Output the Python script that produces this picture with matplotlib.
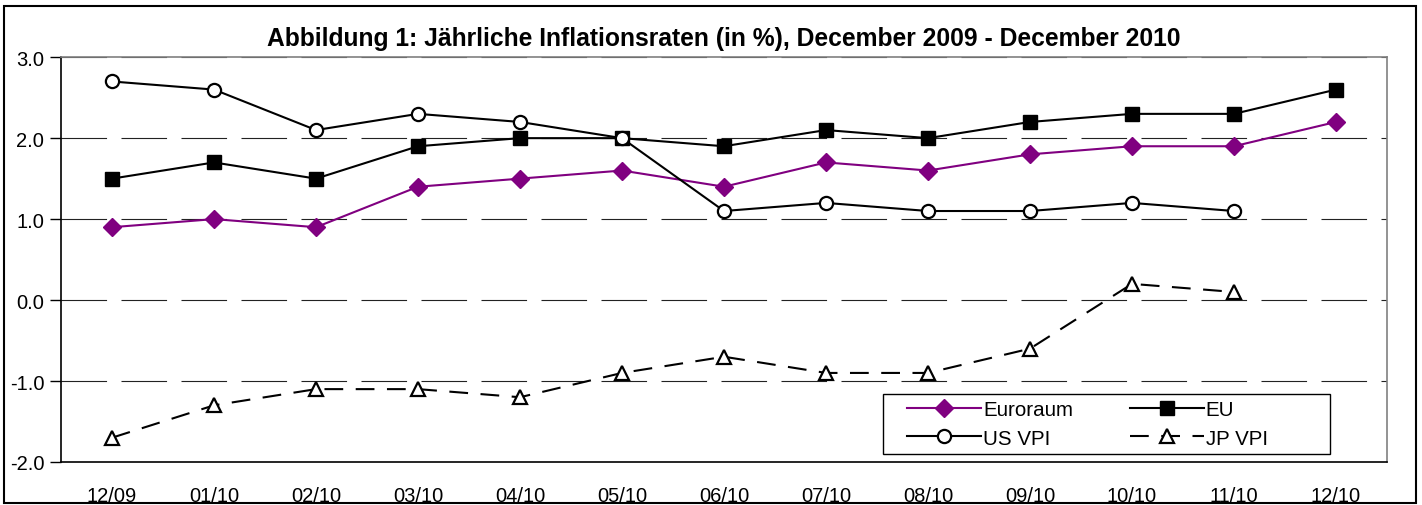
import numpy as np
import matplotlib.pyplot as plt
from matplotlib.patches import Rectangle

months = ["12/09", "01/10", "02/10", "03/10", "04/10", "05/10", "06/10",
          "07/10", "08/10", "09/10", "10/10", "11/10", "12/10"]
euroraum = [0.9, 1.0, 0.9, 1.4, 1.5, 1.6, 1.4, 1.7, 1.6, 1.8, 1.9, 1.9, 2.2]
eu = [1.5, 1.7, 1.5, 1.9, 2.0, 2.0, 1.9, 2.1, 2.0, 2.2, 2.3, 2.3, 2.6]
us_vpi = [2.7, 2.6, 2.1, 2.3, 2.2, 2.0, 1.1, 1.2, 1.1, 1.1, 1.2, 1.1, np.nan]
jp_vpi = [-1.7, -1.3, -1.1, -1.1, -1.2, -0.9, -0.7, -0.9, -0.9, -0.6, 0.2, 0.1, np.nan]
yticks = [-2.0, -1.0, 0.0, 1.0, 2.0, 3.0]

plt.rcParams['font.family'] = ['Liberation Sans', 'DejaVu Sans']

fig = plt.figure(figsize=(14.22, 5.06), dpi=100)
ax = fig.add_axes([0.0429, 0.085, 0.9325, 0.80])
x = np.arange(len(months))

# gridlines
for yv in yticks[1:]:
    ax.axhline(yv, color='#222222', lw=0.8, dashes=(41, 13), zorder=1)

l1, = ax.plot(x, euroraum, color='#800080', lw=1.5, marker='D', ms=9,
              markerfacecolor='#800080', markeredgecolor='#800080', zorder=3)
l2, = ax.plot(x, eu, color='black', lw=1.5, marker='s', ms=10,
              markerfacecolor='black', zorder=3)
l3, = ax.plot(x, us_vpi, color='black', lw=1.5, marker='o', ms=9.5,
              markerfacecolor='white', markeredgewidth=1.6, zorder=3)
l4, = ax.plot(x, jp_vpi, color='black', lw=1.5, dashes=(9, 6), marker='^', ms=10,
              markerfacecolor='white', markeredgewidth=1.6, zorder=3)

ax.set_xlim(-0.5, len(months) - 0.5)
ax.set_ylim(-2.0, 3.0)
ax.set_yticks(yticks)
ax.set_yticklabels([f"{v:.1f}" for v in yticks], fontsize=14.5)
ax.set_xticks(x)
ax.set_xticklabels(months, fontsize=14.5)
ax.tick_params(axis='x', length=0, pad=17)
ax.tick_params(axis='y', length=8, width=1, direction='out', pad=4)

ax.spines['left'].set_color('black')
ax.spines['bottom'].set_color('black')
ax.spines['top'].set_color('#808080')
ax.spines['right'].set_color('#808080')
for s in ax.spines.values():
    s.set_linewidth(1.2)

ax.set_title("Abbildung 1: Jährliche Inflationsraten (in %), December 2009 - December 2010",
             fontsize=17.7, fontweight='bold', pad=9)

# legend without frame, box drawn by hand (wider side padding like Excel)
leg = ax.legend([l1, l3, l2, l4], ["Euroraum", "US VPI", "EU", "JP VPI"],
                ncol=2, loc='upper left', bbox_to_anchor=(0.6378, 0.207),
                bbox_transform=fig.transFigure,
                fontsize=14.8, frameon=False, handlelength=3.6,
                handletextpad=0.1, columnspacing=2.75, labelspacing=0.45,
                borderpad=0.0, borderaxespad=0)
leg.set_zorder(6)

fig.canvas.draw()
bb = leg.get_window_extent().transformed(ax.transAxes.inverted())
pw = 1 / ax.get_window_extent().width
ph = 1 / ax.get_window_extent().height
box = Rectangle((bb.x0 - 24 * pw, bb.y0 - 6 * ph), bb.width + 86 * pw, bb.height + 12 * ph,
                transform=ax.transAxes, facecolor='white', edgecolor='black',
                lw=1.0, zorder=5, clip_on=False)
ax.add_patch(box)

fig.patches.append(Rectangle((0.003, 0.004), 0.993, 0.982, transform=fig.transFigure,
                             fill=False, edgecolor='black', lw=1.5))

fig.savefig("out.png", dpi=100)
